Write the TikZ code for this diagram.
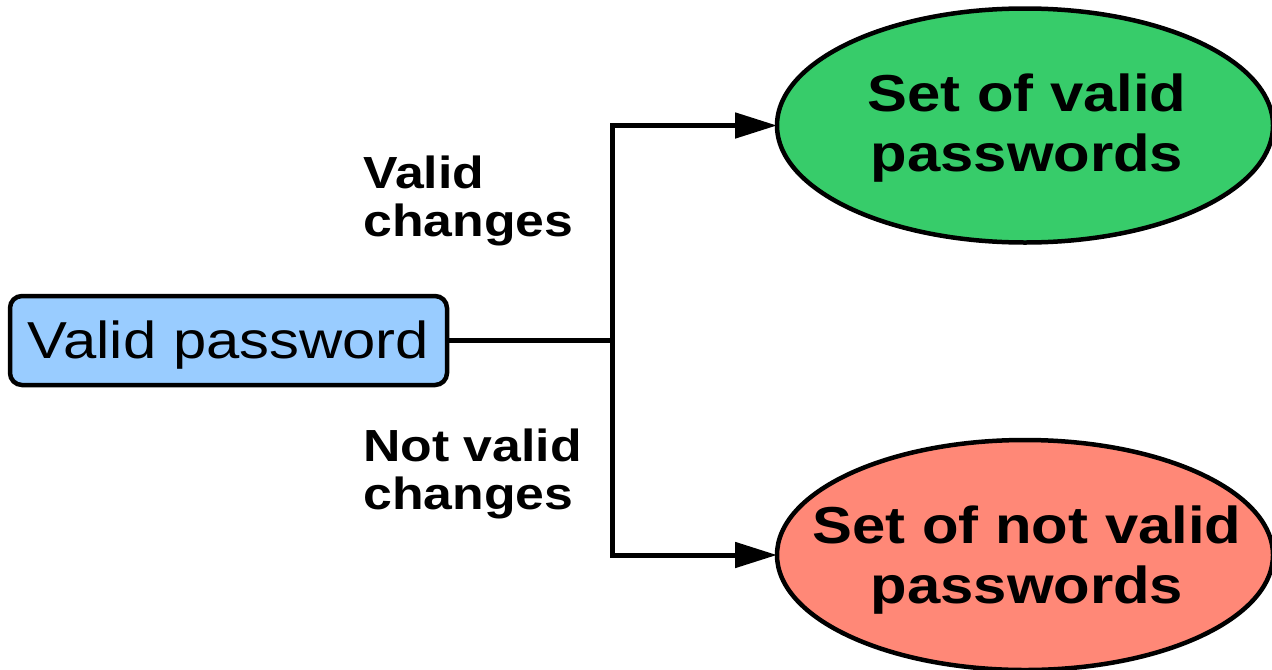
\documentclass[tikz,border=0pt]{standalone}
\usepackage{fontspec}
\setmainfont{Liberation Sans}[FakeStretch=1.15]
\usetikzlibrary{arrows.meta,shapes.geometric}
\definecolor{boxblue}{HTML}{99CCFF}
\definecolor{setgreen}{HTML}{37CC6A}
\definecolor{setred}{HTML}{FF8877}
\tikzset{
  pwbox/.style={draw=black, line width=2.25pt, rounded corners=6pt, fill=boxblue,
    minimum width=218.5pt, minimum height=44.5pt, inner sep=0pt, outer sep=0pt,
    text height=18pt, text depth=0.5pt, font=\fontsize{26}{28}\selectfont},
  setshape/.style={draw=black, line width=2.25pt, ellipse, minimum width=248pt,
    minimum height=117pt, inner sep=0pt, outer sep=0pt},
  settext/.style={align=center, inner sep=0pt, font=\fontsize{26}{30}\selectfont\bfseries},
  lbltext/.style={align=left, inner sep=0pt, anchor=west, font=\fontsize{22.5}{24}\selectfont\bfseries},
  conn/.style={draw=black, line width=2.5pt},
  arr/.style={conn, -{Triangle[length=21pt,width=12.5pt]}}
}
\begin{document}
\begin{tikzpicture}[x=0.5pt,y=-0.5pt]
\clip (0,0) rectangle (1272,669);
\fill[white] (0,0) rectangle (1272,669);
\node[setshape, fill=setgreen] (valid) at (1025,125.5) {};
\node[setshape, fill=setred, minimum height=115pt] (notvalid) at (1025,555) {};
\node[settext] (validtxt) at (1027,128.5) {Set of valid\\passwords};
\node[settext] (notvalidtxt) at (1027,560.5) {Set of not valid\\passwords};
\node[pwbox] (vp) at (228.5,340.5) {Valid password};
\node[lbltext] (lblvalid) at (363,201) {Valid\\changes};
\node[lbltext] (lblnot) at (363,474) {Not valid\\changes};
\coordinate (J) at (612.5,340.5);
\draw[conn] (vp.east) -- (J);
\draw[arr] (J) |- (valid.west);
\draw[arr] (J) |- (notvalid.west);
\end{tikzpicture}
\end{document}
